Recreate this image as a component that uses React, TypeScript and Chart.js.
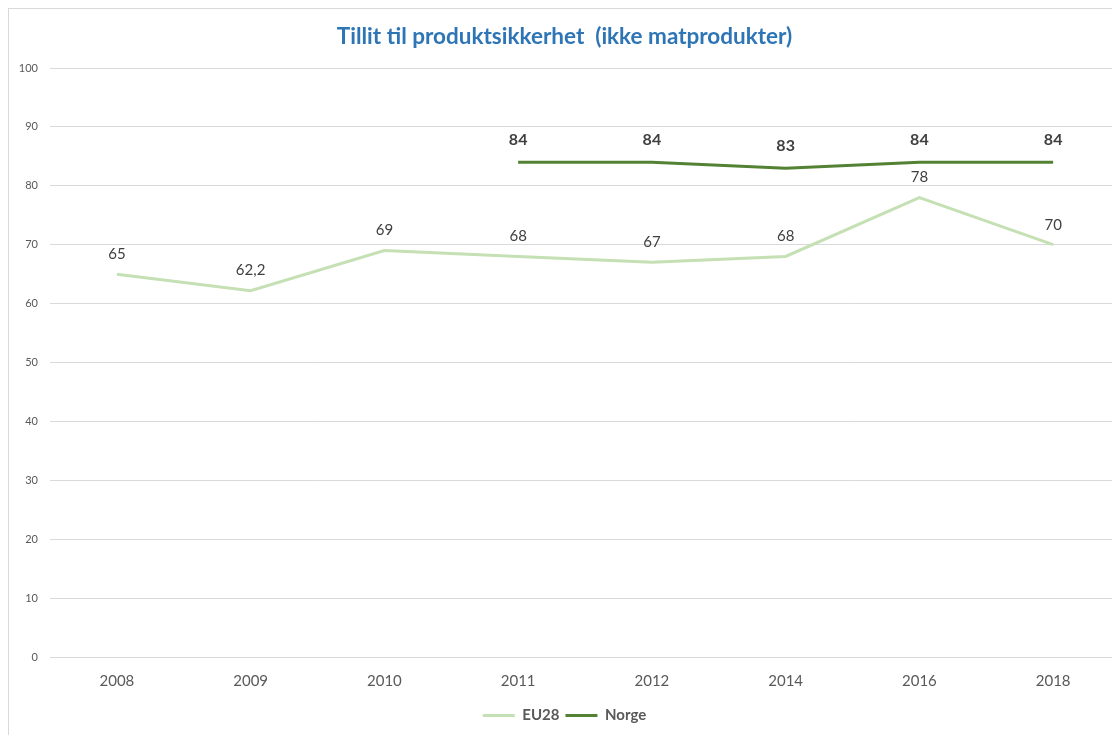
import React, { useEffect, useRef } from "react";
import { Chart, registerables } from "chart.js";

Chart.register(...registerables);

const TITLE = "Tillit til produktsikkerhet  (ikke matprodukter)";
const categories = ["2008", "2009", "2010", "2011", "2012", "2014", "2016", "2018"];
const eu28Values: (number | null)[] = [65, 62.2, 69, 68, 67, 68, 78, 70];
const norgeValues: (number | null)[] = [null, null, null, 84, 84, 83, 84, 84];
const yTicks = [0, 10, 20, 30, 40, 50, 60, 70, 80, 90, 100];

const FONT = "Lato, 'Open Sans', sans-serif";

const labelPlugin = {
  id: "valueLabels",
  afterDatasetsDraw(chart: any) {
    const ctx = chart.ctx;
    chart.data.datasets.forEach((ds: any, i: number) => {
      const meta = chart.getDatasetMeta(i);
      meta.data.forEach((pt: any, j: number) => {
        const v = ds.data[j];
        if (v === null || v === undefined) return;
        ctx.save();
        ctx.textAlign = "center";
        ctx.textBaseline = "middle";
        ctx.fillStyle = "#404040";
        if (i === 1) {
          ctx.font = `bold 16px ${FONT}`;
          ctx.fillText(String(v).replace(".", ","), pt.x, pt.y - 22);
        } else {
          ctx.font = `15px ${FONT}`;
          ctx.fillText(String(v).replace(".", ","), pt.x, pt.y - 20);
        }
        ctx.restore();
      });
    });
  },
};

export default function App() {
  const ref = useRef<HTMLCanvasElement>(null);
  useEffect(() => {
    if (!ref.current) return;
    const chart = new Chart(ref.current, {
      type: "line",
      data: {
        labels: categories,
        datasets: [
          {
            label: "EU28",
            data: eu28Values,
            borderColor: "#C5E0B4",
            backgroundColor: "#C5E0B4",
            borderWidth: 3,
            pointRadius: 0,
            tension: 0,
          },
          {
            label: "Norge",
            data: norgeValues,
            borderColor: "#548235",
            backgroundColor: "#548235",
            borderWidth: 3,
            pointRadius: 0,
            tension: 0,
          },
        ],
      },
      options: {
        animation: false,
        responsive: false,
        maintainAspectRatio: false,
        layout: { padding: { left: 0, right: 0, top: 0, bottom: 2 } },
        plugins: {
          title: {
            display: true,
            text: TITLE,
            color: "#2E75B6",
            font: { family: FONT, size: 22.5, weight: "bold" },
            padding: { top: 14, bottom: 18 },
          },
          legend: {
            position: "bottom",
            labels: {
              usePointStyle: true,
              pointStyle: "line",
              pointStyleWidth: 32,
              color: "#595959",
              font: { family: FONT, size: 15, weight: "bold" },
              padding: 6,
            },
          },
          tooltip: { enabled: false },
        },
        scales: {
          x: {
            offset: true,
            grid: { display: false, drawTicks: false },
            border: { display: true, color: "#d9d9d9" },
            afterFit: (s: any) => {
              s.height = 45;
            },
            ticks: {
              color: "#595959",
              font: { family: FONT, size: 15 },
              padding: 15,
            },
          },
          y: {
            min: 0,
            max: 100,
            afterBuildTicks: (s: any) => {
              s.ticks = yTicks.map((v) => ({ value: v }));
            },
            afterFit: (s: any) => {
              s.width = 41;
            },
            grid: { color: "#d9d9d9", drawTicks: false },
            border: { display: false },
            ticks: {
              color: "#595959",
              font: { family: FONT, size: 11 },
              padding: 12,
            },
          },
        },
      },
      plugins: [labelPlugin],
    });
    return () => chart.destroy();
  }, []);
  return (
    <div
      style={{
        borderLeft: "1px solid #d9d9d9",
        borderTop: "1px solid #d9d9d9",
        width: 1111,
        height: 726,
        overflow: "hidden",
      }}
    >
      <canvas ref={ref} width={1111} height={726} style={{ display: "block" }} />
    </div>
  );
}
